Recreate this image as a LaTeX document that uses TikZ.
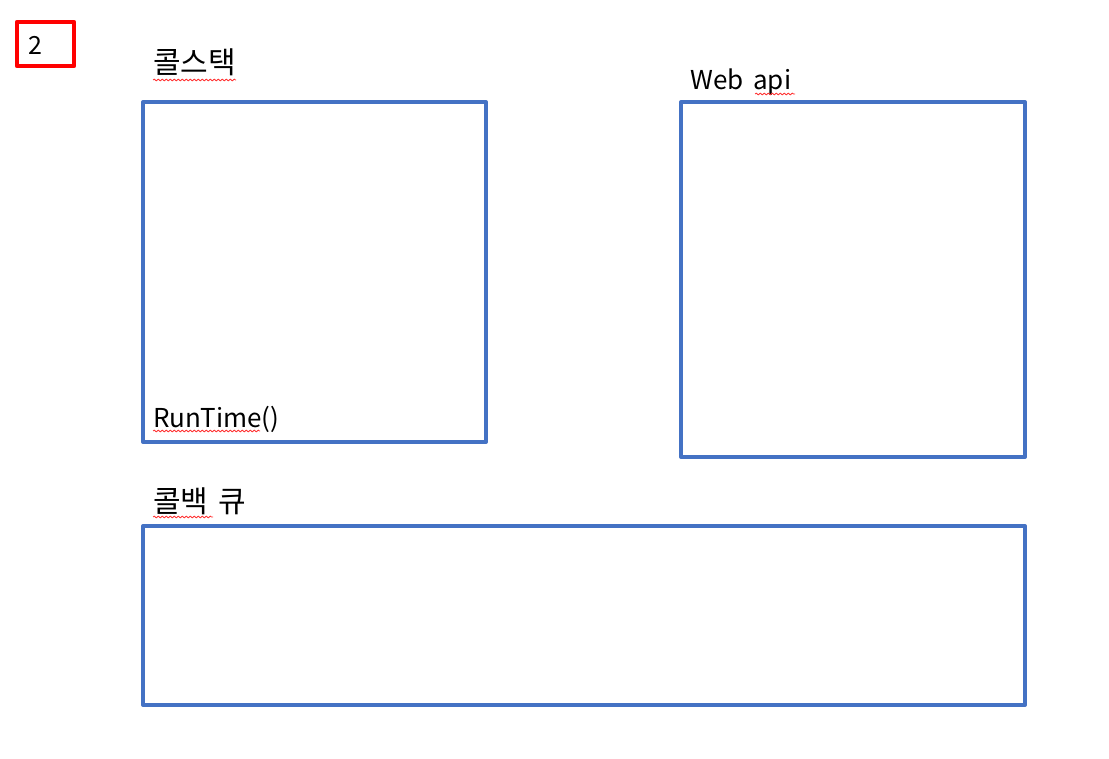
\documentclass[tikz,border=0pt]{standalone}
\usepackage{fontspec}
\setmainfont{Noto Sans CJK KR}
\usetikzlibrary{decorations.pathmorphing}
\definecolor{boxblue}{HTML}{4472C4}
\definecolor{markred}{HTML}{FF0000}
\tikzset{
  panel/.style={draw=boxblue, line width=4pt, line join=round},
  tag/.style={draw=markred, line width=4.5pt, line join=round},
  label/.style={anchor=base west, inner sep=0pt, font=\fontsize{26}{30}\selectfont},
  hangul/.style={label, font=\fontsize{30}{34}\selectfont},
  squiggle/.style={draw=markred!80, line width=0.8pt,
    decorate, decoration={snake, amplitude=0.9pt, segment length=4pt}}
}
\begin{document}
\begin{tikzpicture}[x=1pt, y=-1pt]
  \useasboundingbox (0,0) rectangle (1109,759);
  % page number tag
  \draw[tag] (17,22) rectangle (74,66);
  \node[label, font=\fontsize{25}{29}\selectfont] (num) at (28,55) {2};
  % call stack
  \draw[panel] (143,102) rectangle (486,442);
  \node[hangul] (cs) at (153,74) {콜스택};
  \node[label] (rt) at (153,427) {RunTime()};
  % web api
  \draw[panel] (681,102) rectangle (1025,457);
  \node[label] (web) at (690,90) {Web\hspace{4pt} api};
  % callback queue
  \draw[panel] (143,526) rectangle (1025,705);
  \node[hangul] (cbq) at (153,512) {콜백\hspace{3pt} 큐};
  % spell-check underlines
  \coordinate (s1a) at (153,80); \coordinate (s1b) at (236,80);
  \coordinate (s2a) at (755,94); \coordinate (s2b) at (795,94);
  \coordinate (s3a) at (153,431); \coordinate (s3b) at (260,431);
  \coordinate (s4a) at (153,517); \coordinate (s4b) at (213,517);
  \draw[squiggle] (s1a) -- (s1b);
  \draw[squiggle] (s2a) -- (s2b);
  \draw[squiggle] (s3a) -- (s3b);
  \draw[squiggle] (s4a) -- (s4b);
\end{tikzpicture}
\end{document}
